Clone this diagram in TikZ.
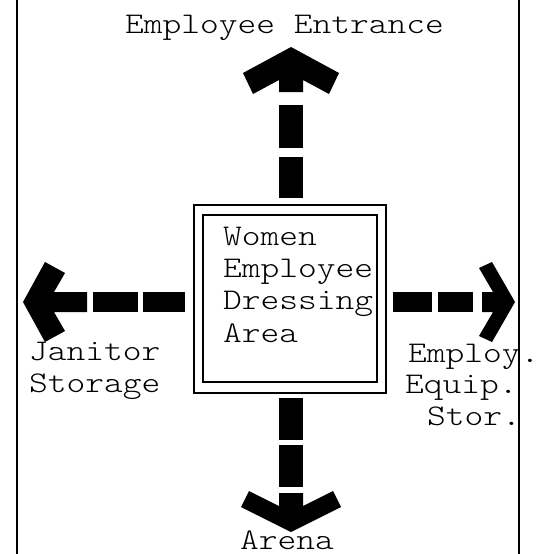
\documentclass[tikz,border=0pt]{standalone}
\usepackage{fontspec}
\newfontfamily\typefont{lmmonolt10-regular}[Extension=.otf, FakeStretch=1.19]
\usepackage{tikz}

\begin{document}
\begin{tikzpicture}[x=1pt, y=-1pt,
	every node/.style={font=\typefont\fontsize{30}{31.5}\selectfont, inner sep=0pt, anchor=base west},
	wall/.style={line width=2.5pt},
	room/.style={line width=1.8pt},
	bar/.style={fill=black}]
	\useasboundingbox (0,0) rectangle (541,554);
	% side walls
	\draw[wall] (17,0) -- (17,554);
	\draw[wall] (519,0) -- (519,554);
	% dressing room, double wall
	\draw[room] (194,205) rectangle (386,393);
	\draw[room] (203,215) rectangle (377,382);
	\node[align=left, font=\typefont\fontsize{30}{32.3}\selectfont] (dress) at (223,342) {Women\\Employee\\Dressing\\Area};
	% up to the entrance
	\fill[bar] (291,47) -- (339,73) -- (329,94) -- (303,80) -- (303,92) -- (279,92) -- (279,80) -- (253,94) -- (243,73) -- cycle;
	\fill[bar] (279,105) rectangle (303,148);
	\fill[bar] (279,157) rectangle (303,198);
	% down to the arena
	\fill[bar] (279,398) rectangle (303,440);
	\fill[bar] (279,445) rectangle (303,487);
	\fill[bar] (279,493) -- (279,506) -- (249,491) -- (241,507) -- (291,532) -- (341,507) -- (333,491) -- (303,506) -- (303,493) -- cycle;
	% left to janitor storage
	\fill[bar] (23,302) -- (45,262) -- (65,273) -- (54,292) -- (87,292) -- (87,312) -- (54,312) -- (65,331) -- (45,342) -- cycle;
	\fill[bar] (93,292) rectangle (138,312);
	\fill[bar] (143,292) rectangle (185,312);
	% right to equipment storage
	\fill[bar] (393,292) rectangle (432,312);
	\fill[bar] (438,292) rectangle (473,312);
	\fill[bar] (515,302) -- (492,262) -- (479,268) -- (493,292) -- (482,292) -- (482,312) -- (493,312) -- (479,336) -- (492,342) -- cycle;
	% labels
	\node (entrance) at (125,33) {Employee Entrance};
	\node[align=left] (janitor) at (29,392) {Janitor\\Storage};
	\node (employ) at (408,362) {Employ.};
	\node (equip) at (405,393) {Equip.};
	\node (stor) at (427,425) {Stor.};
	\node (arena) at (240,549) {Arena};
\end{tikzpicture}
\end{document}
